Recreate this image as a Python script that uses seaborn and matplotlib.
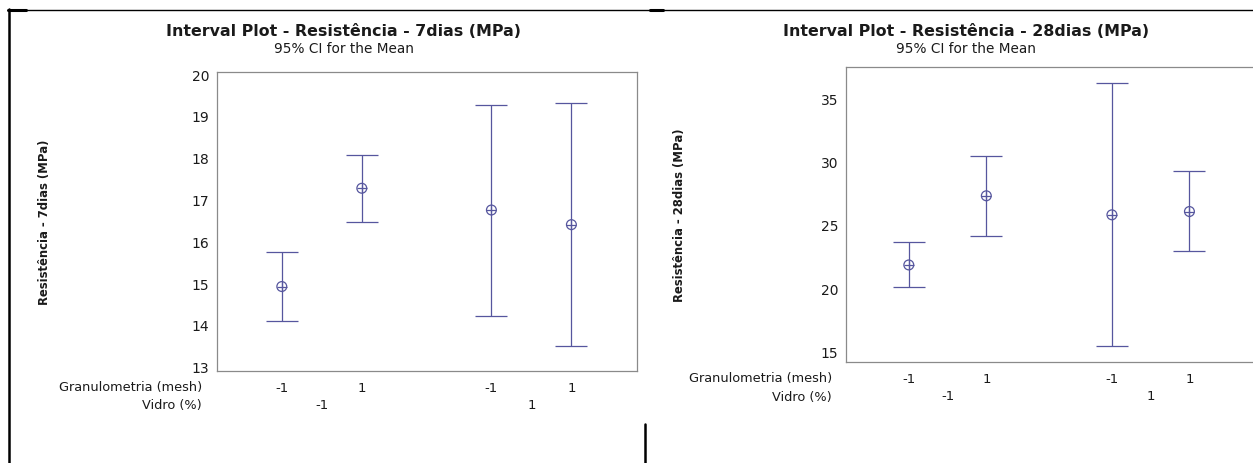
import numpy as np
import pandas as pd
import matplotlib
matplotlib.use("Agg")
import matplotlib.pyplot as plt
import matplotlib.transforms as mtransforms
from matplotlib.lines import Line2D
import seaborn as sns

# ---------------- data ----------------
vidro_levels = ["-1", "-1", "1", "1"]
granulometria_levels = ["-1", "1", "-1", "1"]
vidro_groups = ["-1", "1"]

mean_7 = [14.92, 17.27, 16.75, 16.40]
lower_7 = [14.09, 16.46, 14.21, 13.49]
upper_7 = [15.74, 18.07, 19.26, 19.30]

mean_28 = [21.85, 27.30, 25.80, 26.06]
lower_28 = [20.10, 24.15, 15.45, 22.95]
upper_28 = [23.66, 30.42, 36.15, 29.22]

titles = ["Interval Plot - Resistência - 7dias (MPa)",
          "Interval Plot - Resistência - 28dias (MPa)"]
subtitle = "95% CI for the Mean"
ylabels = ["Resistência - 7dias (MPa)", "Resistência - 28dias (MPa)"]
yticks_7 = [13, 14, 15, 16, 17, 18, 19, 20]
yticks_28 = [15, 20, 25, 30, 35]

# ---------------- style ----------------
sns.set_theme(style="white")
plt.rcParams["font.family"] = ["DejaVu Sans"]
LINE = "#56569e"
SPINE = "#8a8a8a"
TXT = "#1a1a1a"

W, H = 1253, 464
fig = plt.figure(figsize=(W / 100, H / 100), dpi=100)
fig.patch.set_facecolor("white")

GAP = 0.62
group_index = [vidro_groups.index(v) for v in vidro_levels]
within = [0, 1, 0, 1]
pos = [w + g * (2 + GAP) for w, g in zip(within, group_index)]


def fx(px):
    return px / W


def fy(py):
    return 1 - py / H


panels = [
    dict(rect=[fx(217), fy(372), fx(637) - fx(217), fy(73) - fy(372)],
         mean=mean_7, lo=lower_7, hi=upper_7, ylim=(12.9, 20.05), yt=yticks_7,
         rowx=202, row1=388, row2=406, tcx=344, ty=31, sty=49, right_spine=True),
    dict(rect=[fx(846), fy(363), fx(1253) - fx(846), fy(68) - fy(363)],
         mean=mean_28, lo=lower_28, hi=upper_28, ylim=(14.2, 37.45), yt=yticks_28,
         rowx=832, row1=379, row2=397, tcx=966, ty=31, sty=49, right_spine=False),
]

for i, p in enumerate(panels):
    ax = fig.add_axes(p["rect"])
    df = pd.DataFrame({"pos": pos, "mean": p["mean"], "lo": p["lo"], "hi": p["hi"]})
    yerr = [df["mean"] - df["lo"], df["hi"] - df["mean"]]
    ax.errorbar(df["pos"], df["mean"], yerr=yerr, fmt="none", ecolor=LINE,
                elinewidth=0.9, capsize=11.5, capthick=0.9, zorder=2)
    sns.scatterplot(data=df, x="pos", y="mean", ax=ax, marker="o", s=50,
                    color="none", edgecolor=LINE, linewidth=0.9, zorder=3)
    sns.scatterplot(data=df, x="pos", y="mean", ax=ax, marker="+", s=50,
                    color=LINE, linewidth=0.9, zorder=4)

    ax.set_xlim(-0.81, 4.44)
    ax.set_ylim(*p["ylim"])
    ax.set_yticks(p["yt"])
    ax.set_yticklabels([str(t) for t in p["yt"]], fontsize=10, color=TXT)
    ax.set_xticks(pos)
    ax.set_xticklabels(granulometria_levels, fontsize=9.5, color=TXT)
    ax.set_xlabel("")
    ax.set_ylabel(ylabels[i], fontsize=8.4, fontweight="bold", color=TXT, va="center")
    ax.yaxis.set_label_coords(-0.41, 0.5)
    ax.tick_params(axis="both", which="both", direction="out", length=3.5,
                   width=0.8, color=SPINE, pad=2)
    ax.tick_params(axis="x", pad=4)
    for side, sp in ax.spines.items():
        sp.set_color(SPINE)
        sp.set_linewidth(0.9)
    if not p["right_spine"]:
        ax.spines["right"].set_visible(False)
    ax.grid(False)
    ax.set_facecolor("white")

    # second x row: Vidro groups
    trans = mtransforms.blended_transform_factory(ax.transData, fig.transFigure)
    for g, lab in enumerate(vidro_groups):
        gx = np.mean([pp for pp, gi in zip(pos, group_index) if gi == g])
        ax.text(gx, fy(p["row2"]), lab, transform=trans, ha="center", va="center",
                fontsize=9.5, color=TXT)
    fig.text(fx(p["rowx"]), fy(p["row1"]), "Granulometria (mesh)", ha="right",
             va="center", fontsize=9.3, color=TXT)
    fig.text(fx(p["rowx"]), fy(p["row2"]), "Vidro (%)", ha="right",
             va="center", fontsize=9.3, color=TXT)

    fig.text(fx(p["tcx"]), fy(p["ty"]), titles[i], ha="center", va="center",
             fontsize=11.4, fontweight="bold", color=TXT)
    fig.text(fx(p["tcx"]), fy(p["sty"]), subtitle, ha="center", va="center",
             fontsize=9.8, color=TXT)

# page frame lines from the source document
frame = [
    ((8, 1253), (10.5, 10.5), 1.0),
    ((8, 26), (11, 11), 2.2),
    ((650, 663), (11, 11), 2.2),
    ((8.5, 8.5), (10, 464), 1.8),
    ((644.5, 644.5), (425, 464), 1.8),
]
for xs, ys, lw in frame:
    fig.add_artist(Line2D([fx(xs[0]), fx(xs[1])], [fy(ys[0]), fy(ys[1])],
                          transform=fig.transFigure, color="black", linewidth=lw))

fig.savefig("out.png", dpi=100, facecolor="white")
